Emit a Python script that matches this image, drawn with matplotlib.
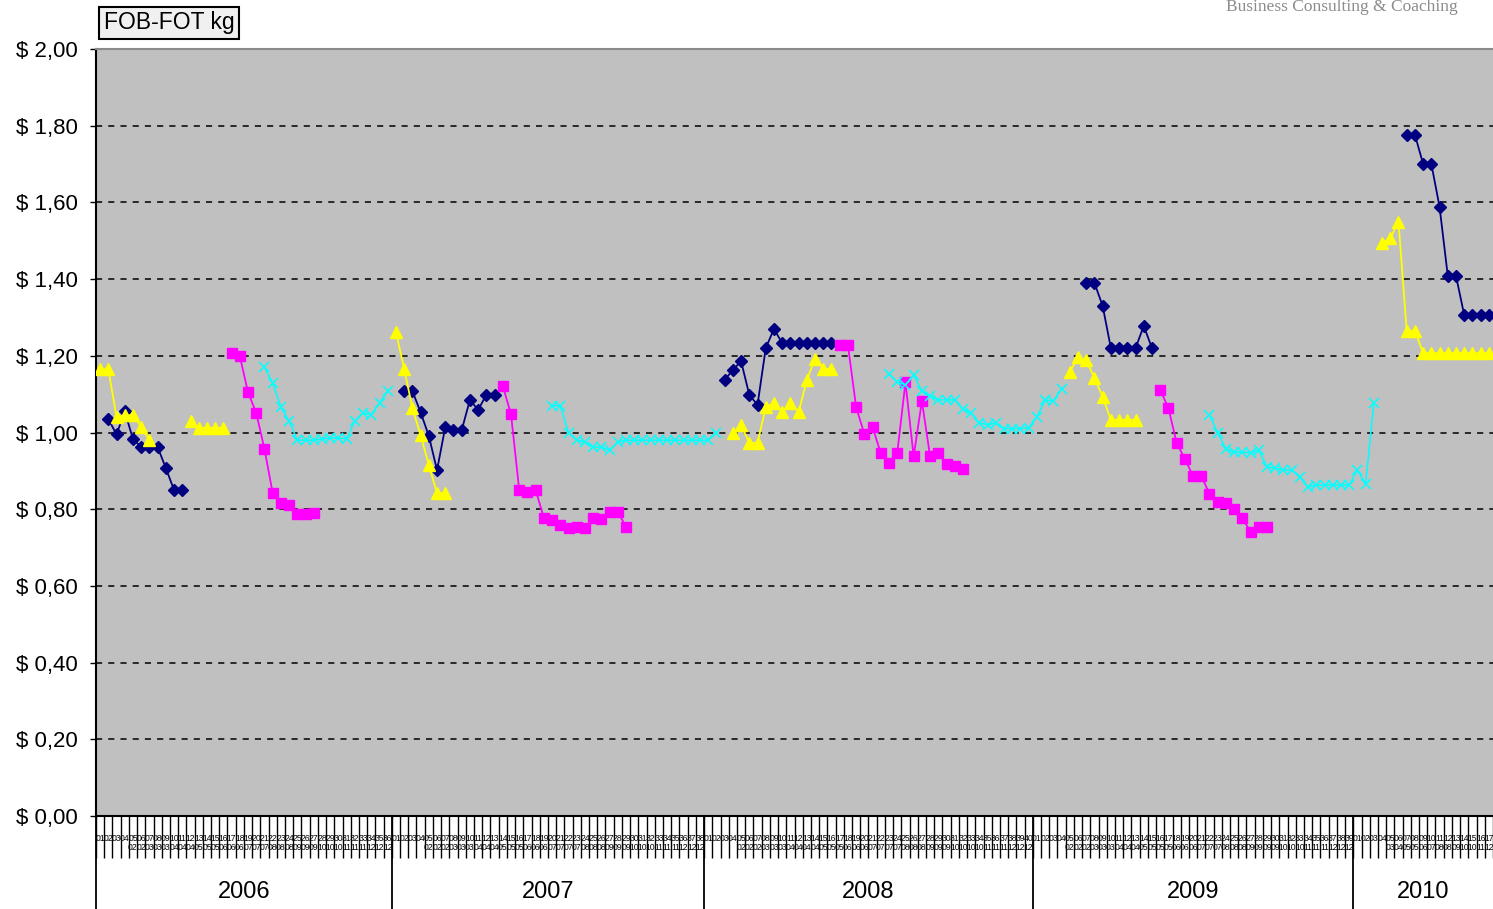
import numpy as np
import matplotlib
matplotlib.use("Agg")
import matplotlib.pyplot as plt
from matplotlib.ticker import FuncFormatter, FixedLocator
import matplotlib.transforms as mtransforms

plt.rcParams['font.family'] = ['Liberation Sans', 'DejaVu Sans']

# ---------------------------------------------
# Data: weekly categories grouped by year
# ---------------------------------------------
years = [2006, 2007, 2008, 2009, 2010]
weeks_per_year = [36, 38, 40, 39, 17]

# each series: (first week index, values) segments
navy_segments = [
    (1, [1.035, 0.995, 1.055, 0.983, 0.962, 0.962, 0.962, 0.907, 0.850, 0.850]),
    (37, [1.108, 1.108, 1.053, 0.991, 0.902, 1.014, 1.006, 1.006, 1.085, 1.059, 1.098, 1.098]),
    (76, [1.137, 1.163, 1.186, 1.098, 1.072, 1.220, 1.270, 1.233, 1.233, 1.233, 1.233, 1.233, 1.233, 1.233]),
    (120, [1.390, 1.390, 1.330, 1.220, 1.220, 1.220, 1.220, 1.278, 1.220]),
    (159, [1.776, 1.776, 1.700, 1.700, 1.588, 1.408, 1.408, 1.306, 1.306, 1.306, 1.306]),
]
magenta_segments = [
    (16, [1.207, 1.199, 1.105, 1.051, 0.957, 0.842, 0.816, 0.811, 0.787, 0.787, 0.790]),
    (49, [1.121, 1.048, 0.850, 0.845, 0.850, 0.777, 0.772, 0.759, 0.751, 0.754, 0.751, 0.777,
          0.774, 0.793, 0.793, 0.754]),
    (90, [1.228, 1.228, 1.066, 0.996, 1.014, 0.946, 0.920, 0.946, 1.131, 0.938, 1.082, 0.938,
          0.946, 0.917, 0.912, 0.904]),
    (129, [1.111, 1.064, 0.973, 0.931, 0.887, 0.887, 0.840, 0.819, 0.816, 0.801, 0.777, 0.741,
           0.754, 0.754]),
]
yellow_segments = [
    (0, [1.165, 1.165, 1.040, 1.045, 1.045, 1.015, 0.980]),
    (11, [1.030, 1.012, 1.012, 1.012, 1.012]),
    (36, [1.262, 1.166, 1.064, 0.993, 0.915, 0.842, 0.842]),
    (77, [0.999, 1.020, 0.973, 0.973, 1.066, 1.077, 1.053, 1.077, 1.053, 1.137, 1.192, 1.166, 1.166]),
    (118, [1.158, 1.197, 1.189, 1.142, 1.093, 1.033, 1.033, 1.033, 1.033]),
    (156, [1.494, 1.507, 1.549, 1.265, 1.265, 1.207, 1.207, 1.207, 1.207, 1.207, 1.207, 1.207,
           1.207, 1.207]),
]
cyan_segments = [
    (20, [1.171, 1.129, 1.066, 1.030, 0.980, 0.980, 0.980, 0.983, 0.986, 0.986, 0.983, 1.030,
          1.051, 1.046, 1.077, 1.108]),
    (55, [1.070, 1.070, 0.999, 0.980, 0.975, 0.962, 0.962, 0.954, 0.975, 0.980, 0.980, 0.980,
          0.980, 0.980, 0.980, 0.980, 0.980, 0.980, 0.980, 0.980, 0.999]),
    (96, [1.153, 1.132, 1.124, 1.150, 1.108, 1.095, 1.085, 1.085, 1.085, 1.061, 1.050, 1.025,
          1.020, 1.025, 1.010, 1.010, 1.010, 1.012, 1.040, 1.085, 1.082, 1.113]),
    (135, [1.046, 0.999, 0.957, 0.949, 0.949, 0.947, 0.954, 0.910, 0.907, 0.902, 0.902, 0.884,
           0.858, 0.863, 0.863, 0.863, 0.863, 0.863, 0.902, 0.866, 1.077]),
]

y_ticks = [0.0, 0.2, 0.4, 0.6, 0.8, 1.0, 1.2, 1.4, 1.6, 1.8, 2.0]

N = sum(weeks_per_year)


def build(segments):
    arr = np.full(N, np.nan)
    for start, vals in segments:
        arr[start:start + len(vals)] = vals
    return arr


# category labels: week number, with month on a second line
cat_labels = []
for y, n in zip(years, weeks_per_year):
    for k in range(n):
        lab = f"{k + 1:02d}"
        if k >= 4:
            lab += f"\n{min(12, k * 12 // n + 1):02d}"
        cat_labels.append(lab)

# ---------------------------------------------
# Figure
# ---------------------------------------------
fig = plt.figure(figsize=(14.93, 9.09), dpi=100)
ax = fig.add_axes([96 / 1493, 93 / 909, 1 - 96 / 1493, 767 / 909])
ax.set_facecolor("#C0C0C0")

x = np.arange(N)
for y in y_ticks[1:-1]:
    ax.axhline(y, color="black", lw=1.1, linestyle=(0, (4, 4)), zorder=1)

ax.plot(x, build(navy_segments), color="#000080", lw=1.3, marker="D", ms=6.5, zorder=3)
ax.plot(x, build(magenta_segments), color="#FF00FF", lw=1.3, marker="s", ms=7, zorder=4)
ax.plot(x, build(yellow_segments), color="#FFFF00", lw=1.3, marker="^", ms=8.5, zorder=5)
ax.plot(x, build(cyan_segments), color="#00FFFF", lw=1.1, marker="x", ms=7, mew=1.1, zorder=6)

ax.set_xlim(-0.5, N - 0.5)
ax.set_ylim(0, 2)

# y axis
ax.yaxis.set_major_locator(FixedLocator(y_ticks))
ax.yaxis.set_major_formatter(FuncFormatter(lambda v, p: f"$ {v:.2f}".replace(".", ",")))
ax.tick_params(axis="y", length=4, width=1, pad=9, labelsize=16)

# x axis: category labels + separators
ax.set_xticks(x)
ax.set_xticklabels(cat_labels, fontsize=6.2, linespacing=1.0)
ax.set_xticks(np.arange(N + 1) - 0.5, minor=True)
ax.tick_params(axis="x", which="major", length=0, pad=13)
ax.tick_params(axis="x", which="minor", length=30, width=1, color="black")

ax.spines["right"].set_visible(False)
ax.spines["top"].set_color("#8a8a8a")
ax.spines["top"].set_linewidth(1.5)
ax.spines["left"].set_linewidth(1.5)
ax.spines["bottom"].set_linewidth(1.5)

# year groups
trans = mtransforms.blended_transform_factory(ax.transData, ax.transAxes)
bounds = np.concatenate([[0], np.cumsum(weeks_per_year)]) - 0.5
for b in bounds[:-1]:
    ax.plot([b, b], [0, -0.125], color="black", lw=1.3, transform=trans, clip_on=False)
for y, lo, hi in zip(years, bounds[:-1], bounds[1:]):
    ax.text((lo + hi) / 2, -0.099, str(y), transform=trans, ha="center", va="center", fontsize=17)

# title box and brand text
fig.text(169 / 1493, 1 - 23 / 909, "FOB-FOT kg", ha="center", va="center", fontsize=16.5,
         bbox=dict(boxstyle="square,pad=0.2", facecolor="#F0F0F0", edgecolor="black", lw=1.5))
fig.text(1342 / 1493, 1 - 7 / 909, "Business Consulting & Coaching", ha="center", va="center",
         fontsize=12.5, color="#8c8c8c", family=["Liberation Serif", "DejaVu Serif"])

fig.savefig("out.png", dpi=100)
